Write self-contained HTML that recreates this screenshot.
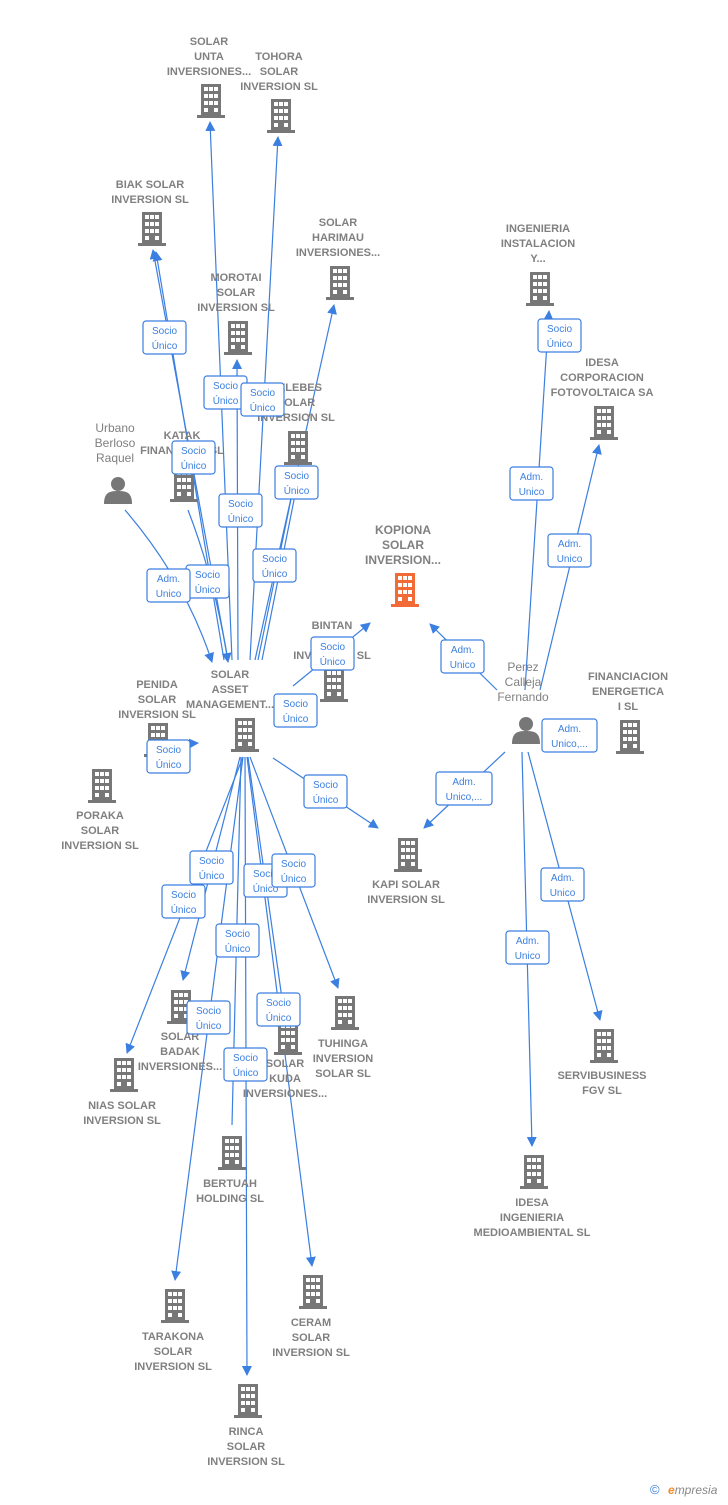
<!DOCTYPE html>
<html><head><meta charset="utf-8"><style>
body{margin:0;background:#fff;width:728px;height:1500px;overflow:hidden;font-family:"Liberation Sans",sans-serif}
svg text{font-family:"Liberation Sans",sans-serif}
.l{font-size:11px;fill:#808080;font-weight:bold;text-anchor:middle}
.p{font-size:12px;fill:#808080;text-anchor:middle}
.b{font-size:10px;fill:#3b7fe0;text-anchor:middle}
.e{stroke:#3b7fe0;stroke-width:1.2;fill:none}
.bx{fill:#fff;stroke:#3b7fe0;stroke-width:1.2}
</style></head><body>
<svg width="728" height="1500" viewBox="0 0 728 1500" xmlns="http://www.w3.org/2000/svg">
<defs>
<marker id="a" markerWidth="10" markerHeight="10" refX="9" refY="5" orient="auto" markerUnits="userSpaceOnUse"><path d="M0,0 L10,5 L0,10 Z" fill="#3b7fe0"/></marker>
<symbol id="bd" viewBox="0 0 28 34"><rect x="4" y="0" width="20" height="31" fill="#777"/><rect x="0" y="31" width="28" height="3" fill="#777"/>
<g fill="#fff"><rect x="7" y="3" width="4" height="4"/><rect x="12" y="3" width="4" height="4"/><rect x="17" y="3" width="4" height="4"/>
<rect x="7" y="10" width="4" height="4"/><rect x="12" y="10" width="4" height="4"/><rect x="17" y="10" width="4" height="4"/>
<rect x="7" y="17" width="4" height="4"/><rect x="12" y="17" width="4" height="4"/><rect x="17" y="17" width="4" height="4"/>
<rect x="7" y="24" width="4" height="4"/><rect x="17" y="24" width="4" height="4"/></g></symbol>
<symbol id="bdr" viewBox="0 0 28 34"><rect x="4" y="0" width="20" height="31" fill="#f26a36"/><rect x="0" y="31" width="28" height="3" fill="#f26a36"/>
<g fill="#fff"><rect x="7" y="3" width="4" height="4"/><rect x="12" y="3" width="4" height="4"/><rect x="17" y="3" width="4" height="4"/>
<rect x="7" y="10" width="4" height="4"/><rect x="12" y="10" width="4" height="4"/><rect x="17" y="10" width="4" height="4"/>
<rect x="7" y="17" width="4" height="4"/><rect x="12" y="17" width="4" height="4"/><rect x="17" y="17" width="4" height="4"/>
<rect x="7" y="24" width="4" height="4"/><rect x="17" y="24" width="4" height="4"/></g></symbol>
<symbol id="ps" viewBox="0 0 28 28"><circle cx="14" cy="8" r="7" fill="#777"/><path d="M0,28 C0,16 6,15 14,15 C22,15 28,16 28,28 Z" fill="#777"/></symbol>
</defs>

<g class="e" marker-end="url(#a)">
<path d="M232,660 L210,122"/>
<path d="M250,660 L278,137"/>
<path d="M228,660 L153,250"/>
<path d="M224,660 L156,252"/>
<path d="M255,660 L334,305"/>
<path d="M238,660 L237,360"/>
<path d="M258,660 L297,470"/>
<path d="M262,660 L300,470"/>
<path d="M188,510 Q215,580 228,662"/>
<path d="M125,510 Q185,580 212,662"/>
<path d="M293,686 L370,623"/>
<path d="M160,745 L198,743"/>
<path d="M273,758 L378,828"/>
<path d="M497,690 L430,624"/>
<path d="M525,690 L549,311"/>
<path d="M540,690 L599,445"/>
<path d="M505,752 L424,828"/>
<path d="M528,752 L600,1020"/>
<path d="M522,752 L532,1146"/>
<path d="M243,757 L127,1053"/>
<path d="M240,757 L183,980"/>
<path d="M243,757 L175,1280"/>
<path d="M245,757 L247,1375"/>
<path d="M247,757 L312,1266"/>
<path d="M250,757 L338,988"/>
<path d="M248,757 L285,1020"/>
</g>
<path class="e" d="M241,757 L232,1125"/>

<g>
<use href="#bd" x="197" y="84" width="28" height="34"/>
<use href="#bd" x="267" y="99" width="28" height="34"/>
<use href="#bd" x="138" y="212" width="28" height="34"/>
<use href="#bd" x="326" y="266" width="28" height="34"/>
<use href="#bd" x="224" y="321" width="28" height="34"/>
<use href="#bd" x="526" y="272" width="28" height="34"/>
<use href="#bd" x="590" y="406" width="28" height="34"/>
<use href="#bd" x="284" y="431" width="28" height="34"/>
<use href="#bd" x="170" y="468" width="28" height="34"/>
<use href="#ps" x="104" y="476" width="28" height="28"/>
<use href="#bdr" x="391" y="573" width="28" height="34"/>
<use href="#bd" x="320" y="668" width="28" height="34"/>
<use href="#bd" x="231" y="718" width="28" height="34"/>
<use href="#bd" x="144" y="723" width="28" height="34"/>
<use href="#ps" x="512" y="716" width="28" height="28"/>
<use href="#bd" x="616" y="720" width="28" height="34"/>
<use href="#bd" x="88" y="769" width="28" height="34"/>
<use href="#bd" x="394" y="838" width="28" height="34"/>
<use href="#bd" x="167" y="990" width="28" height="34"/>
<use href="#bd" x="331" y="996" width="28" height="34"/>
<use href="#bd" x="274" y="1021" width="28" height="34"/>
<use href="#bd" x="110" y="1058" width="28" height="34"/>
<use href="#bd" x="590" y="1029" width="28" height="34"/>
<use href="#bd" x="218" y="1136" width="28" height="34"/>
<use href="#bd" x="520" y="1155" width="28" height="34"/>
<use href="#bd" x="161" y="1289" width="28" height="34"/>
<use href="#bd" x="299" y="1275" width="28" height="34"/>
<use href="#bd" x="234" y="1384" width="28" height="34"/>
</g>

<g class="l">
<text x="209" y="45">SOLAR</text><text x="209" y="60">UNTA</text><text x="209" y="75">INVERSIONES...</text>
<text x="279" y="60">TOHORA</text><text x="279" y="75">SOLAR</text><text x="279" y="90">INVERSION  SL</text>
<text x="150" y="188">BIAK SOLAR</text><text x="150" y="203">INVERSION  SL</text>
<text x="338" y="226">SOLAR</text><text x="338" y="241">HARIMAU</text><text x="338" y="256">INVERSIONES...</text>
<text x="236" y="281">MOROTAI</text><text x="236" y="296">SOLAR</text><text x="236" y="311">INVERSION  SL</text>
<text x="538" y="232">INGENIERIA</text><text x="538" y="247">INSTALACION</text><text x="538" y="262">Y...</text>
<text x="602" y="366">IDESA</text><text x="602" y="381">CORPORACION</text><text x="602" y="396">FOTOVOLTAICA SA</text>
<text x="296" y="391">CELEBES</text><text x="296" y="406">SOLAR</text><text x="296" y="421">INVERSION  SL</text>
<text x="182" y="439">KATAK</text><text x="182" y="454">FINANCIALS SL</text>
<text x="403" y="534" style="font-size:12px">KOPIONA</text><text x="403" y="549" style="font-size:12px">SOLAR</text><text x="403" y="564" style="font-size:12px">INVERSION...</text>
<text x="332" y="629">BINTAN</text><text x="332" y="644">SOLAR</text><text x="332" y="659">INVERSION  SL</text>
<text x="230" y="678">SOLAR</text><text x="230" y="693">ASSET</text><text x="230" y="708">MANAGEMENT...</text>
<text x="157" y="688">PENIDA</text><text x="157" y="703">SOLAR</text><text x="157" y="718">INVERSION  SL</text>
<text x="628" y="680">FINANCIACION</text><text x="628" y="695">ENERGETICA</text><text x="628" y="710">I  SL</text>
<text x="100" y="819">PORAKA</text><text x="100" y="834">SOLAR</text><text x="100" y="849">INVERSION  SL</text>
<text x="406" y="888">KAPI SOLAR</text><text x="406" y="903">INVERSION  SL</text>
<text x="180" y="1040">SOLAR</text><text x="180" y="1055">BADAK</text><text x="180" y="1070">INVERSIONES...</text>
<text x="343" y="1047">TUHINGA</text><text x="343" y="1062">INVERSION</text><text x="343" y="1077">SOLAR  SL</text>
<text x="285" y="1067">SOLAR</text><text x="285" y="1082">KUDA</text><text x="285" y="1097">INVERSIONES...</text>
<text x="122" y="1109">NIAS SOLAR</text><text x="122" y="1124">INVERSION  SL</text>
<text x="602" y="1079">SERVIBUSINESS</text><text x="602" y="1094">FGV SL</text>
<text x="230" y="1187">BERTUAH</text><text x="230" y="1202">HOLDING  SL</text>
<text x="532" y="1206">IDESA</text><text x="532" y="1221">INGENIERIA</text><text x="532" y="1236">MEDIOAMBIENTAL SL</text>
<text x="173" y="1340">TARAKONA</text><text x="173" y="1355">SOLAR</text><text x="173" y="1370">INVERSION  SL</text>
<text x="311" y="1326">CERAM</text><text x="311" y="1341">SOLAR</text><text x="311" y="1356">INVERSION  SL</text>
<text x="246" y="1435">RINCA</text><text x="246" y="1450">SOLAR</text><text x="246" y="1465">INVERSION  SL</text>
</g>
<g class="p">
<text x="115" y="432">Urbano</text><text x="115" y="447">Berloso</text><text x="115" y="462">Raquel</text>
<text x="523" y="671">Perez</text><text x="523" y="686">Calleja</text><text x="523" y="701">Fernando</text>
</g>

<g id="boxes">
<g transform="translate(143,321)"><rect class="bx" width="43" height="33" rx="3"/><text class="b" x="21.5" y="13">Socio</text><text class="b" x="21.5" y="28">Único</text></g>
<g transform="translate(204,376)"><rect class="bx" width="43" height="33" rx="3"/><text class="b" x="21.5" y="13">Socio</text><text class="b" x="21.5" y="28">Único</text></g>
<g transform="translate(241,383)"><rect class="bx" width="43" height="33" rx="3"/><text class="b" x="21.5" y="13">Socio</text><text class="b" x="21.5" y="28">Único</text></g>
<g transform="translate(172,441)"><rect class="bx" width="43" height="33" rx="3"/><text class="b" x="21.5" y="13">Socio</text><text class="b" x="21.5" y="28">Único</text></g>
<g transform="translate(275,466)"><rect class="bx" width="43" height="33" rx="3"/><text class="b" x="21.5" y="13">Socio</text><text class="b" x="21.5" y="28">Único</text></g>
<g transform="translate(219,494)"><rect class="bx" width="43" height="33" rx="3"/><text class="b" x="21.5" y="13">Socio</text><text class="b" x="21.5" y="28">Único</text></g>
<g transform="translate(186,565)"><rect class="bx" width="43" height="33" rx="3"/><text class="b" x="21.5" y="13">Socio</text><text class="b" x="21.5" y="28">Único</text></g>
<g transform="translate(253,549)"><rect class="bx" width="43" height="33" rx="3"/><text class="b" x="21.5" y="13">Socio</text><text class="b" x="21.5" y="28">Único</text></g>
<g transform="translate(147,569)"><rect class="bx" width="43" height="33" rx="3"/><text class="b" x="21.5" y="13">Adm.</text><text class="b" x="21.5" y="28">Unico</text></g>
<g transform="translate(311,637)"><rect class="bx" width="43" height="33" rx="3"/><text class="b" x="21.5" y="13">Socio</text><text class="b" x="21.5" y="28">Único</text></g>
<g transform="translate(274,694)"><rect class="bx" width="43" height="33" rx="3"/><text class="b" x="21.5" y="13">Socio</text><text class="b" x="21.5" y="28">Único</text></g>
<g transform="translate(147,740)"><rect class="bx" width="43" height="33" rx="3"/><text class="b" x="21.5" y="13">Socio</text><text class="b" x="21.5" y="28">Único</text></g>
<g transform="translate(304,775)"><rect class="bx" width="43" height="33" rx="3"/><text class="b" x="21.5" y="13">Socio</text><text class="b" x="21.5" y="28">Único</text></g>
<g transform="translate(244,864)"><rect class="bx" width="43" height="33" rx="3"/><text class="b" x="21.5" y="13">Socio</text><text class="b" x="21.5" y="28">Único</text></g>
<g transform="translate(190,851)"><rect class="bx" width="43" height="33" rx="3"/><text class="b" x="21.5" y="13">Socio</text><text class="b" x="21.5" y="28">Único</text></g>
<g transform="translate(272,854)"><rect class="bx" width="43" height="33" rx="3"/><text class="b" x="21.5" y="13">Socio</text><text class="b" x="21.5" y="28">Único</text></g>
<g transform="translate(162,885)"><rect class="bx" width="43" height="33" rx="3"/><text class="b" x="21.5" y="13">Socio</text><text class="b" x="21.5" y="28">Único</text></g>
<g transform="translate(216,924)"><rect class="bx" width="43" height="33" rx="3"/><text class="b" x="21.5" y="13">Socio</text><text class="b" x="21.5" y="28">Único</text></g>
<g transform="translate(257,993)"><rect class="bx" width="43" height="33" rx="3"/><text class="b" x="21.5" y="13">Socio</text><text class="b" x="21.5" y="28">Único</text></g>
<g transform="translate(187,1001)"><rect class="bx" width="43" height="33" rx="3"/><text class="b" x="21.5" y="13">Socio</text><text class="b" x="21.5" y="28">Único</text></g>
<g transform="translate(224,1048)"><rect class="bx" width="43" height="33" rx="3"/><text class="b" x="21.5" y="13">Socio</text><text class="b" x="21.5" y="28">Único</text></g>
<g transform="translate(538,319)"><rect class="bx" width="43" height="33" rx="3"/><text class="b" x="21.5" y="13">Socio</text><text class="b" x="21.5" y="28">Único</text></g>
<g transform="translate(510,467)"><rect class="bx" width="43" height="33" rx="3"/><text class="b" x="21.5" y="13">Adm.</text><text class="b" x="21.5" y="28">Unico</text></g>
<g transform="translate(548,534)"><rect class="bx" width="43" height="33" rx="3"/><text class="b" x="21.5" y="13">Adm.</text><text class="b" x="21.5" y="28">Unico</text></g>
<g transform="translate(441,640)"><rect class="bx" width="43" height="33" rx="3"/><text class="b" x="21.5" y="13">Adm.</text><text class="b" x="21.5" y="28">Unico</text></g>
<g transform="translate(542,719)"><rect class="bx" width="55" height="33" rx="3"/><text class="b" x="27.5" y="13">Adm.</text><text class="b" x="27.5" y="28">Unico,...</text></g>
<g transform="translate(436,772)"><rect class="bx" width="56" height="33" rx="3"/><text class="b" x="28" y="13">Adm.</text><text class="b" x="28" y="28">Unico,...</text></g>
<g transform="translate(541,868)"><rect class="bx" width="43" height="33" rx="3"/><text class="b" x="21.5" y="13">Adm.</text><text class="b" x="21.5" y="28">Unico</text></g>
<g transform="translate(506,931)"><rect class="bx" width="43" height="33" rx="3"/><text class="b" x="21.5" y="13">Adm.</text><text class="b" x="21.5" y="28">Unico</text></g>
</g>

<text x="650" y="1494" style="font-size:13px;fill:#3b7fe0">©</text>
<text x="668" y="1494" style="font-size:12px;fill:#888;font-style:italic"><tspan fill="#f28c28" font-weight="bold">e</tspan>mpresia</text>
</svg>
</body></html>
